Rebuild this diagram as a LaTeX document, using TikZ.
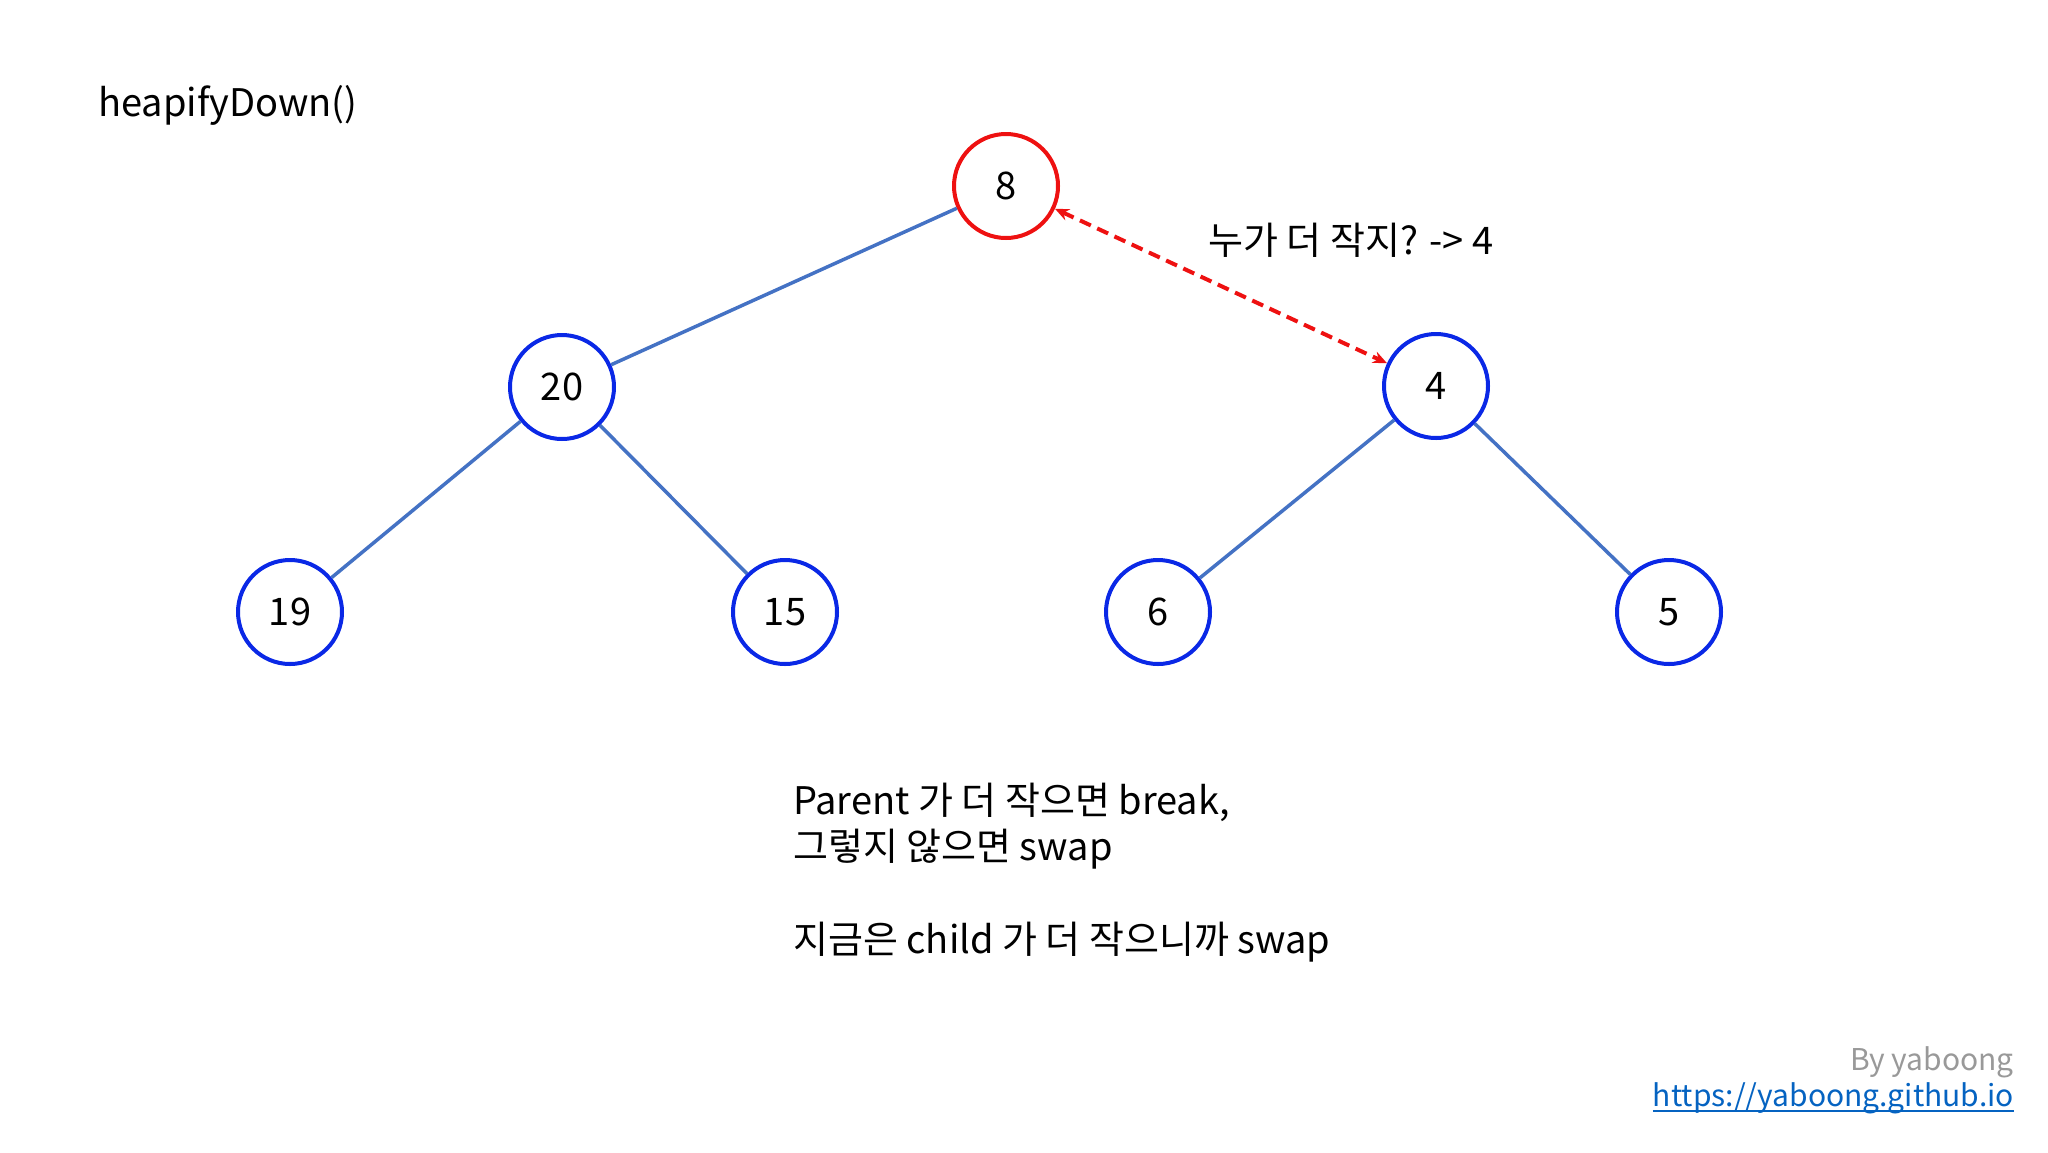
\documentclass[tikz,border=0pt]{standalone}
\usepackage{fontspec}
\setmainfont{Noto Sans CJK KR}
\usetikzlibrary{arrows.meta}
\definecolor{edgeblue}{HTML}{4472C4}
\definecolor{nodeblue}{HTML}{0A28E6}
\definecolor{nodered}{HTML}{EE1111}
\definecolor{linkblue}{HTML}{0563C1}
\begin{document}
\begin{tikzpicture}[x=1pt,y=-1pt,
  hnode/.style={circle,draw=nodeblue,line width=4pt,minimum size=104pt,inner sep=0pt,font=\fontsize{38}{44}\selectfont},
  rnode/.style={hnode,draw=nodered},
  edge/.style={draw=edgeblue,line width=3.5pt},
  txt/.style={anchor=base west,inner sep=0pt,font=\fontsize{38}{46}\selectfont}]
\useasboundingbox (0,0) rectangle (2048,1152);
\node[rnode] (n8) at (1006,186) {8};
\node[hnode] (n20) at (562,387) {20};
\node[hnode] (n4) at (1436,386) {4};
\node[hnode] (n19) at (290,612) {19};
\node[hnode] (n15) at (785,612) {15};
\node[hnode] (n6) at (1158,612) {6};
\node[hnode] (n5) at (1669,612) {5};
\draw[edge] (n8) -- (n20);
\draw[edge] (n20) -- (n19);
\draw[edge] (n20) -- (n15);
\draw[edge] (n4) -- (n6);
\draw[edge] (n4) -- (n5);
\draw[draw=nodered,line width=4pt,dashed,dash pattern=on 12pt off 7pt,{Stealth[length=14pt,width=12pt]}-{Stealth[length=14pt,width=12pt]}] (n8) -- (n4);
\node[txt] (title) at (98,116) {heapifyDown()};
\node[txt] (q) at (1208,254) {누가 더 작지? -> 4};
\node[txt] (b1) at (793,814) {Parent 가 더 작으면 break,};
\node[txt] (b2) at (793,860) {그렇지 않으면 swap};
\node[txt] (b3) at (793,953) {지금은 child 가 더 작으니까 swap};
\node[anchor=base east,inner sep=0pt,font=\fontsize{30}{36}\selectfont,text=gray!80] (by) at (2014,1070) {By yaboong};
\node[anchor=base east,inner sep=0pt,font=\fontsize{30}{36}\selectfont,text=linkblue] (lnk) at (2014,1106) {https://yaboong.github.io};
\draw[linkblue,line width=2pt] ([yshift=-5pt]lnk.base west) -- ([yshift=-5pt]lnk.base east);
\end{tikzpicture}
\end{document}
